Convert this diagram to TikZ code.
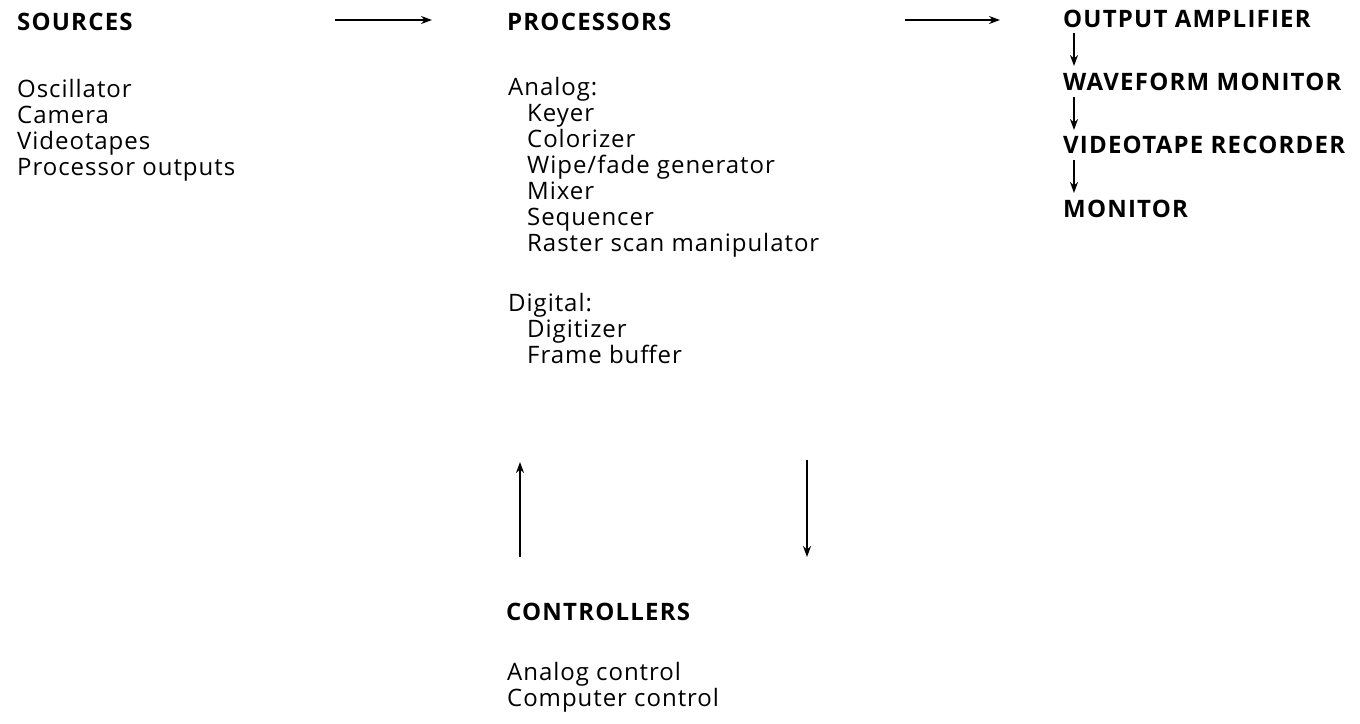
\documentclass[tikz,border=0pt]{standalone}
\usepackage{fontspec}
\setmainfont{Open Sans}[LetterSpace=4, BoldFeatures={LetterSpace=5}]
\usetikzlibrary{arrows.meta}

\tikzset{
	item/.style={anchor=base west, inner sep=0pt, font=\fontsize{24}{26}\selectfont},
	heading/.style={item, font=\fontsize{24}{26}\selectfont\bfseries},
	flow/.style={-{Stealth[length=11pt, width=8pt]}, line width=1.9pt},
}

\begin{document}
\begin{tikzpicture}[x=1pt, y=-1pt]
		\useasboundingbox (0, 0) rectangle (1360, 723);
		% sources
		\node[heading] (sources) at (17, 30) {SOURCES};
		\foreach \txt [count=\i] in {Oscillator, Camera, Videotapes, Processor outputs}
			\node[item] (src\i) at (17, 71+26*\i) {\txt};
		% processors
		\node[heading] (processors) at (507, 30) {PROCESSORS};
		\node[item] (analog) at (508, 95) {Analog:};
		\foreach \txt [count=\i] in {Keyer, Colorizer, Wipe/fade generator, Mixer, Sequencer, Raster scan manipulator}
			\node[item] (ana\i) at (527, 95+26*\i) {\txt};
		\node[item] (digital) at (508, 311) {Digital:};
		\foreach \txt [count=\i] in {Digitizer, Frame buffer}
			\node[item] (dig\i) at (527, 311+26*\i) {\txt};
		% controllers
		\node[heading] (controllers) at (506, 620) {CONTROLLERS};
		\node[item] (ctl1) at (507, 680) {Analog control};
		\node[item] (ctl2) at (507, 706) {Computer control};
		% output chain
		\node[heading] (amp) at (1063, 27) {OUTPUT AMPLIFIER};
		\node[heading] (wfm) at (1063, 90) {WAVEFORM MONITOR};
		\node[heading] (vtr) at (1063, 153) {VIDEOTAPE RECORDER};
		\node[heading] (mon) at (1063, 217) {MONITOR};
		\draw[flow] (amp.base west) ++(11, 6) coordinate (a1) -- ++(0, 33);
		\draw[flow] (wfm.base west) ++(11, 7) coordinate (a2) -- ++(0, 33);
		\draw[flow] (vtr.base west) ++(11, 7) coordinate (a3) -- ++(0, 33);
		% flow between columns
		\coordinate (s1) at (335, 20);
		\coordinate (s2) at (432, 20);
		\coordinate (p1) at (905, 20);
		\coordinate (p2) at (1000, 20);
		\draw[flow] (s1) -- (s2);
		\draw[flow] (p1) -- (p2);
		\coordinate (up1) at (520, 557);
		\coordinate (up2) at (520, 462);
		\coordinate (dn1) at (807, 460);
		\coordinate (dn2) at (807, 557);
		\draw[flow] (up1) -- (up2);
		\draw[flow] (dn1) -- (dn2);
	\end{tikzpicture}
\end{document}
